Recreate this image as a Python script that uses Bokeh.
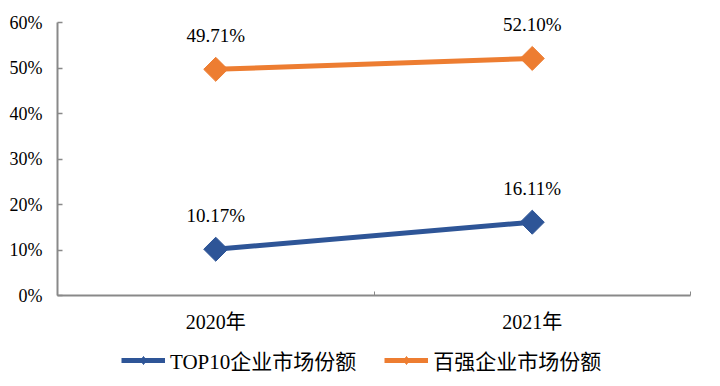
import numpy as np
from bokeh.plotting import figure
from bokeh.layouts import column
from bokeh.models import (Range1d, FixedTicker, PrintfTickFormatter, Legend, LegendItem,
                          ColumnDataSource)
from bokeh.core.properties import value
from bokeh.embed import file_html
from bokeh.resources import INLINE

years = ["2020年", "2021年"]
series_names = ["TOP10企业市场份额", "百强企业市场份额"]
top10 = [10.17, 16.11]
top100 = [49.71, 52.10]
y_ticks = [0, 10, 20, 30, 40, 50, 60]

colors = ["#2E5597", "#ED7D31"]
FONT = "Liberation Serif, Noto Sans CJK SC"
AXIS_GRAY = "#898989"

xs = [i + 0.5 for i in range(len(years))]
y_top = y_ticks[-1] * (295 - 4) / (295 - 22)   # headroom above 60% for the data labels

p = figure(width=712, height=340, output_backend="svg", toolbar_location=None,
           x_range=Range1d(0, len(years)), y_range=Range1d(0, y_top),
           min_border_left=57, min_border_right=22, min_border_top=4, min_border_bottom=45)
p.outline_line_color = None
p.grid.visible = False
p.background_fill_color = "white"
p.border_fill_color = "white"

# y axis
p.yaxis.ticker = FixedTicker(ticks=y_ticks)
p.yaxis.bounds = (y_ticks[0], y_ticks[-1])
p.yaxis.formatter = PrintfTickFormatter(format="%d%%")
p.yaxis.axis_line_color = AXIS_GRAY
p.yaxis.axis_line_width = 2
p.yaxis.major_tick_line_color = AXIS_GRAY
p.yaxis.major_tick_line_width = 1.5
p.yaxis.major_tick_in = 5
p.yaxis.major_tick_out = 0
p.yaxis.minor_tick_line_color = None
p.yaxis.major_label_text_font = FONT
p.yaxis.major_label_text_font_size = "18px"
p.yaxis.major_label_text_color = "#000000"
p.yaxis.major_label_standoff = 15

# x axis
p.xaxis.ticker = FixedTicker(ticks=xs, minor_ticks=list(range(len(years) + 1)))
p.xaxis.major_label_overrides = {x: y for x, y in zip(xs, years)}
p.xaxis.axis_line_color = AXIS_GRAY
p.xaxis.axis_line_width = 2
p.xaxis.major_tick_line_color = None
p.xaxis.major_tick_in = 0
p.xaxis.major_tick_out = 0
p.xaxis.minor_tick_line_color = AXIS_GRAY
p.xaxis.minor_tick_in = 4
p.xaxis.minor_tick_out = 0
p.xaxis.major_label_text_font = FONT
p.xaxis.major_label_text_font_size = "20px"
p.xaxis.major_label_text_color = "#000000"
p.xaxis.major_label_standoff = 15

# legend strip (separate figure so the legend is not clipped by the plot frame)
lg = figure(width=712, height=44, output_backend="svg", toolbar_location=None,
            x_range=Range1d(0, 1), y_range=Range1d(1000, 1001),
            min_border_left=0, min_border_right=0, min_border_top=0, min_border_bottom=0)
lg.outline_line_color = None
lg.grid.visible = False
lg.axis.visible = False
lg.border_fill_color = "white"

items = []
for name, vals, c in zip(series_names, [top10, top100], colors):
    src = ColumnDataSource(dict(x=xs, y=vals, lab=[f"{v:.2f}%" for v in vals]))
    p.line("x", "y", source=src, line_color=c, line_width=5)
    p.scatter("x", "y", source=src, marker="square", angle=np.pi / 4, size=17,
              fill_color=c, line_color=c)
    p.text("x", "y", text="lab", source=src, text_font=value(FONT), text_font_size="19px",
           text_align="center", text_baseline="middle", y_offset=-34, text_color="#000000")
    # legend proxies (same data, drawn outside the strip's visible range)
    ln = lg.line("x", "y", source=src, line_color=c, line_width=5)
    mk = lg.scatter("x", "y", source=src, marker="diamond", size=18,
                    fill_color=c, line_color=c)
    items.append(LegendItem(label=name, renderers=[ln, mk]))

legend = Legend(items=items, orientation="horizontal", location=(64, 9),
                label_text_font=FONT, label_text_font_size="21px", label_text_color="#000000",
                glyph_width=44, glyph_height=20, label_standoff=5, spacing=28,
                border_line_color=None, background_fill_alpha=0, padding=4, margin=0)
lg.add_layout(legend, "center")

layout = column(p, lg, spacing=0)
open("out.html", "w").write(file_html(layout, INLINE))
